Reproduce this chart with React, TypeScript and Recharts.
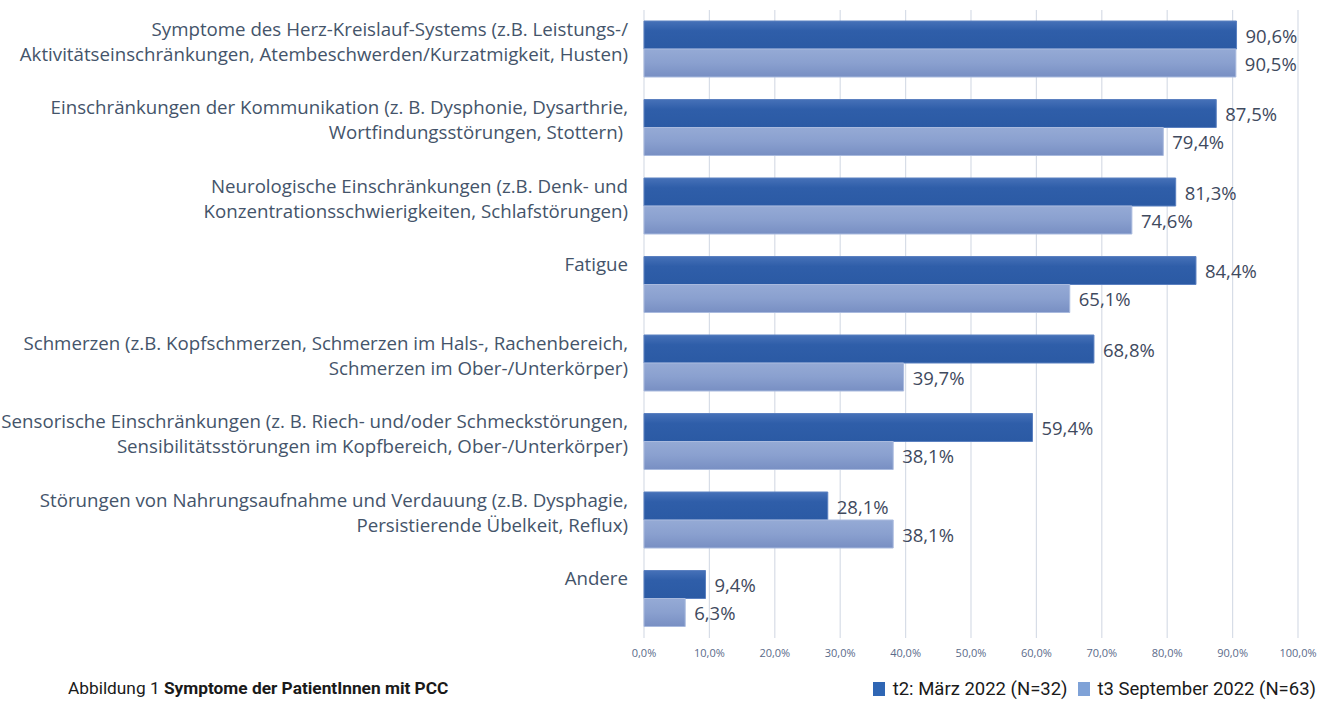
import React from 'react';
import { BarChart, Bar, XAxis, YAxis, CartesianGrid, LabelList } from 'recharts';

const categories: string[] = [
  'Symptome des Herz-Kreislauf-Systems (z.B. Leistungs-/\nAktivitätseinschränkungen, Atembeschwerden/Kurzatmigkeit, Husten)',
  'Einschränkungen der Kommunikation (z. B. Dysphonie, Dysarthrie,\nWortfindungsstörungen, Stottern) ',
  'Neurologische Einschränkungen (z.B. Denk- und\nKonzentrationsschwierigkeiten, Schlafstörungen)',
  'Fatigue',
  'Schmerzen (z.B. Kopfschmerzen, Schmerzen im Hals-, Rachenbereich,\nSchmerzen im Ober-/Unterkörper)',
  'Sensorische Einschränkungen (z. B. Riech- und/oder Schmeckstörungen,\nSensibilitätsstörungen im Kopfbereich, Ober-/Unterkörper)',
  'Störungen von Nahrungsaufnahme und Verdauung (z.B. Dysphagie,\nPersistierende Übelkeit, Reflux)',
  'Andere',
];

const t2Values: number[] = [90.6, 87.5, 81.3, 84.4, 68.8, 59.4, 28.1, 9.4];
const t3Values: number[] = [90.5, 79.4, 74.6, 65.1, 39.7, 38.1, 38.1, 6.3];

const seriesNames: string[] = ['t2: März 2022 (N=32)', 't3 September 2022 (N=63)'];
const legendColors: string[] = ['#2f66b4', '#7fa2d7'];

const xTicks: number[] = [0, 10, 20, 30, 40, 50, 60, 70, 80, 90, 100];

const captionPrefix = 'Abbildung 1 ';
const captionBold = 'Symptome der PatientInnen mit PCC';

const data = categories.map((cat, i) => ({ cat, t2: t2Values[i], t3: t3Values[i] }));

const fmt = (v: number) => v.toFixed(1).replace('.', ',') + '%';

const LABEL_FONT = '"Open Sans", sans-serif';
const TEXT_COLOR = '#44546a';

const YTick = (props: any) => {
  const { x, y, payload } = props;
  const lines: string[] = String(payload.value).split('\n');
  const lineH = 25;
  const firstY = y - 21;
  return (
    <g>
      {lines.map((ln, i) => (
        <text
          key={i}
          x={x - 8}
          y={firstY + i * lineH}
          textAnchor="end"
          dominantBaseline="central"
          fontFamily={LABEL_FONT}
          fontSize={18.7}
          fill={TEXT_COLOR}
          style={{ whiteSpace: 'pre' }}
        >
          {ln}
        </text>
      ))}
    </g>
  );
};

const XTick = (props: any) => {
  const { x, y, payload } = props;
  return (
    <text
      x={x}
      y={y + 6}
      textAnchor="middle"
      dominantBaseline="central"
      fontFamily={LABEL_FONT}
      fontSize={11}
      fill="#5b6b8a"
    >
      {fmt(payload.value)}
    </text>
  );
};

const ValueLabel = (props: any) => {
  const { x, y, width, height, value } = props;
  return (
    <text
      x={x + width + 9}
      y={y + height / 2}
      dominantBaseline="central"
      fontFamily={LABEL_FONT}
      fontSize={18.5}
      fill="#3f4a5e"
    >
      {fmt(value)}
    </text>
  );
};

export default function App() {
  return (
    <div style={{ position: 'absolute', left: 0, top: 0, width: 1329, height: 703, background: '#fff', overflow: 'hidden' }}>
      <BarChart
        width={1329}
        height={670}
        data={data}
        layout="vertical"
        margin={{ top: 10, right: 31, bottom: 2, left: 0 }}
        barGap={0}
        barSize={28}
      >
        <defs>
          <linearGradient id="gDark" x1="0" y1="0" x2="0" y2="1">
            <stop offset="0%" stopColor="#4671b8" />
            <stop offset="35%" stopColor="#2f5ea9" />
            <stop offset="100%" stopColor="#2b5aa4" />
          </linearGradient>
          <linearGradient id="gLight" x1="0" y1="0" x2="0" y2="1">
            <stop offset="0%" stopColor="#95aad5" />
            <stop offset="50%" stopColor="#8aa0cf" />
            <stop offset="100%" stopColor="#788fc3" />
          </linearGradient>
        </defs>
        <CartesianGrid horizontal={false} vertical={true} stroke="#d7dde7" strokeWidth={1.2} />
        <XAxis
          type="number"
          domain={[0, 100]}
          ticks={xTicks}
          axisLine={false}
          tickLine={false}
          height={30}
          tick={<XTick />}
          interval={0}
        />
        <YAxis
          type="category"
          dataKey="cat"
          width={644}
          axisLine={false}
          tickLine={false}
          tick={<YTick />}
          interval={0}
        />
        <Bar dataKey="t2" name={seriesNames[0]} fill="url(#gDark)" stroke="#5b80c0" strokeWidth={1} isAnimationActive={false}>
          <LabelList dataKey="t2" content={<ValueLabel />} />
        </Bar>
        <Bar dataKey="t3" name={seriesNames[1]} fill="url(#gLight)" stroke="#a9bade" strokeWidth={1} isAnimationActive={false}>
          <LabelList dataKey="t3" content={<ValueLabel />} />
        </Bar>
      </BarChart>
      <div
        style={{
          position: 'absolute',
          left: 68,
          top: 678,
          fontFamily: 'Roboto, sans-serif',
          fontSize: 17.3,
          color: '#1a1a1a',
          whiteSpace: 'nowrap',
        }}
      >
        {captionPrefix}
        <b>{captionBold}</b>
      </div>
      <div
        style={{
          position: 'absolute',
          right: 13,
          top: 678,
          display: 'flex',
          alignItems: 'center',
          fontFamily: 'Roboto, sans-serif',
          fontSize: 18.5,
          color: '#1a1a1a',
          whiteSpace: 'nowrap',
        }}
      >
        {seriesNames.map((n, i) => (
          <div key={i} style={{ display: 'flex', alignItems: 'center', marginLeft: i === 0 ? 0 : 10 }}>
            <span style={{ display: 'inline-block', width: 12, height: 14, background: legendColors[i], marginRight: 8 }} />
            <span>{n}</span>
          </div>
        ))}
      </div>
    </div>
  );
}
